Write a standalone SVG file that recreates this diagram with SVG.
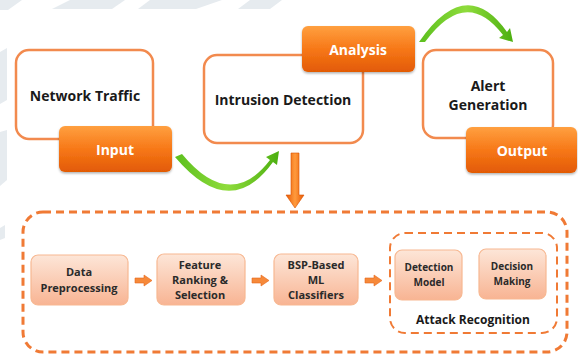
<svg xmlns="http://www.w3.org/2000/svg" width="578" height="354" viewBox="0 0 578 354">
<defs>
<linearGradient id="og" x1="0" y1="0" x2="0" y2="1">
<stop offset="0" stop-color="#ffa040"/>
<stop offset="0.5" stop-color="#f77818"/>
<stop offset="1" stop-color="#e25a05"/>
</linearGradient>
<linearGradient id="pg" x1="0" y1="0" x2="0" y2="1">
<stop offset="0" stop-color="#fde6d8"/>
<stop offset="1" stop-color="#f8b493"/>
</linearGradient>
<linearGradient id="gg" x1="0" y1="0" x2="1" y2="0">
<stop offset="0" stop-color="#5cbf1e"/>
<stop offset="0.5" stop-color="#8fdc3c"/>
<stop offset="1" stop-color="#4caf10"/>
</linearGradient>
<linearGradient id="dg" x1="0" y1="0" x2="1" y2="0">
<stop offset="0" stop-color="#e85a05"/>
<stop offset="0.5" stop-color="#ff9a3c"/>
<stop offset="1" stop-color="#e85a05"/>
</linearGradient>
<filter id="sh" x="-10%" y="-10%" width="120%" height="130%">
<feDropShadow dx="0" dy="1.5" stdDeviation="1.2" flood-color="#000" flood-opacity="0.3"/>
</filter>
</defs>
<style>
.wm{fill:#e6ebef}
.frame{fill:#fff;stroke:#f28a4e;stroke-width:2.5}
.tab{fill:url(#og);filter:url(#sh)}
.step{fill:url(#pg);stroke:#f7b892;stroke-width:1.2}
.t{font-family:"Open Sans","Noto Sans","DejaVu Sans",sans-serif;font-weight:bold;text-anchor:middle;fill:#1a1a1a}
.big{font-size:14px}
.wt{fill:#fff;font-size:14px}
.sm{font-size:11px;fill:#2a2a2a}
.xs{font-size:10px;fill:#2a2a2a}
.dash{fill:none;stroke:#f07a35;stroke-dasharray:8 5}
.sarrow{fill:#f6893a;stroke:#e5661a;stroke-width:0.6}
</style>
<g id="watermark">
<polygon class="wm" points="0,0 22,0 8,10 0,10"/>
<polygon class="wm" points="52,9 70,0 125,0 112,9"/>
<polygon class="wm" points="138,9 150,0 222,0 196,9"/>
<polygon class="wm" points="238,9 250,0 282,0 270,9"/>
<polygon class="wm" points="0,52 7,48 7,100 0,104"/>
<polygon class="wm" points="0,132 7,130 7,180 0,186"/>
<polygon class="wm" points="0,228 5,225 5,238 0,240"/>
</g>
<g id="network-traffic">
<rect class="frame" x="16" y="50" width="137" height="89" rx="13"/>
<text class="t big" x="85" y="101">Network Traffic</text>
</g>
<g id="input">
<rect class="tab" x="59" y="126" width="113" height="46" rx="6"/>
<text class="t wt" x="115" y="155">Input</text>
</g>
<g id="intrusion-detection">
<rect class="frame" x="204" y="55" width="159" height="88" rx="13"/>
<text class="t big" x="283" y="105">Intrusion Detection</text>
</g>
<g id="analysis">
<rect class="tab" x="302" y="26" width="113" height="46" rx="6"/>
<text class="t wt" x="358" y="55">Analysis</text>
</g>
<g id="alert-generation">
<rect class="frame" x="423" y="50" width="130" height="88" rx="13"/>
<text class="t big" x="488" y="91">Alert</text>
<text class="t big" x="488" y="110">Generation</text>
</g>
<g id="output">
<rect class="tab" x="466" y="127" width="111" height="46" rx="6"/>
<text class="t wt" x="522" y="156">Output</text>
</g>
<g id="process">
<rect class="dash" x="23" y="212" width="544" height="140" rx="20" stroke-width="3"/>
</g>
<g id="data-preprocessing">
<rect class="step" x="31" y="255" width="97" height="50" rx="7"/>
<text class="t sm" x="79" y="276">Data</text>
<text class="t sm" x="79" y="292">Preprocessing</text>
</g>
<g id="feature-ranking">
<rect class="step" x="157" y="254" width="88" height="51" rx="7"/>
<text class="t sm" x="200" y="269">Feature</text>
<text class="t sm" x="200" y="284">Ranking &amp;</text>
<text class="t sm" x="200" y="299">Selection</text>
</g>
<g id="bsp-classifiers">
<rect class="step" x="274" y="254" width="84" height="51" rx="7"/>
<text class="t sm" x="316" y="269">BSP-Based</text>
<text class="t sm" x="316" y="284">ML</text>
<text class="t sm" x="316" y="299">Classifiers</text>
</g>
<g id="attack-recognition">
<rect class="dash" x="390" y="233" width="167" height="100" rx="15" stroke-width="2"/>
<text class="t" x="473" y="324" font-size="12">Attack Recognition</text>
</g>
<g id="detection-model">
<rect class="step" x="395" y="250" width="67" height="50" rx="7"/>
<text class="t xs" x="429" y="271">Detection</text>
<text class="t xs" x="429" y="286">Model</text>
</g>
<g id="decision-making">
<rect class="step" x="479" y="249" width="67" height="50" rx="7"/>
<text class="t xs" x="512" y="270">Decision</text>
<text class="t xs" x="512" y="285">Making</text>
</g>
<g id="connectors">
<path d="M182,154 Q230,212 270,160 L266,157 L279,151 L277,165 L273,162 Q230,222 175,157 Z" fill="url(#gg)"/>
<path d="M425,42 Q466,-14 503,35 L499,38 L513,42 L510,28 L507,32 Q466,-26 419,42 Z" fill="url(#gg)"/>
<path d="M291,153 L299,153 L299,195 L304,195 L295,208 L286,195 L291,195 Z" fill="url(#dg)" stroke="#d85000" stroke-width="0.6"/>
<path class="sarrow" d="M135,278 L144,278 L144,275 L152,280.5 L144,286 L144,283 L135,283 Z"/>
<path class="sarrow" d="M252,278 L261,278 L261,275 L269,280.5 L261,286 L261,283 L252,283 Z"/>
<path class="sarrow" d="M365,278 L374,278 L374,275 L382,280.5 L374,286 L374,283 L365,283 Z"/>
</g>
</svg>
